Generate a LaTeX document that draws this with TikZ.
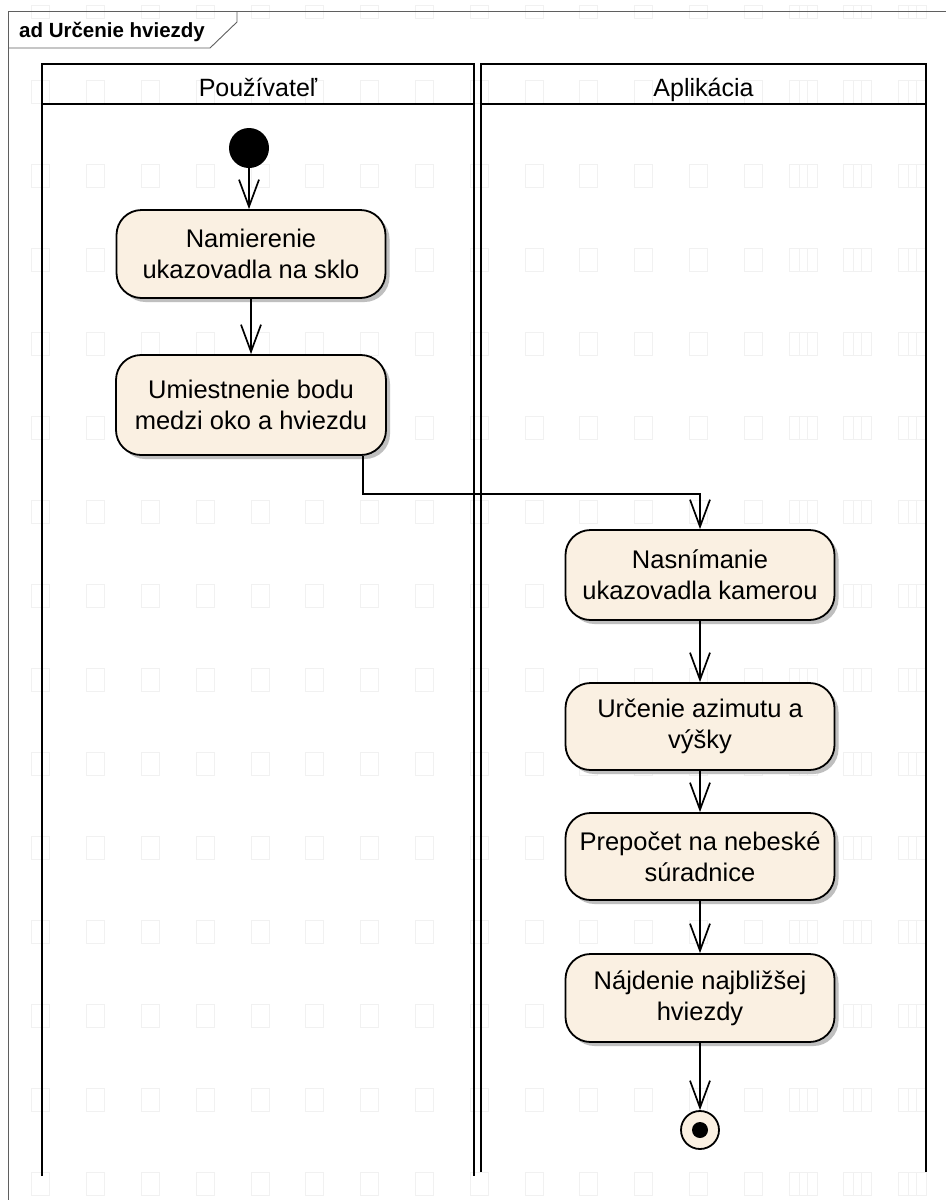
\documentclass[tikz,border=0pt]{standalone}
\usepackage{fontspec}
\setmainfont{Liberation Sans}
\usetikzlibrary{arrows.meta,shadows,calc}
\definecolor{actfill}{RGB}{250,240,226}
\definecolor{wmcol}{RGB}{241,241,241}
\definecolor{framegray}{RGB}{95,95,95}
\tikzset{
  act/.style={draw=black, line width=1.8pt, fill=actfill, rounded corners=25pt,
    minimum width=269pt, minimum height=88pt, align=center, inner sep=0pt,
    font=\fontsize{25.5}{31}\selectfont,
    drop shadow={shadow xshift=4pt, shadow yshift=-4pt, fill=black!25, opacity=1}},
  flow/.style={draw=black, line width=1.7pt,
    -{Straight Barb[length=27pt,width=20pt,line width=1.7pt]}},
  lane/.style={draw=black, line width=2.6pt},
  framestyle/.style={draw=framegray, line width=0.9pt},
  hdr/.style={anchor=base, inner sep=0pt, font=\fontsize{25}{30}\selectfont},
  wmbox/.style={draw=wmcol, line width=0.8pt}
}
\begin{document}
\begin{tikzpicture}[x=1pt,y=-1pt]
\useasboundingbox (0,0) rectangle (946,1200);
\fill[white] (0,0) rectangle (946,1200);
% faint background watermark
\foreach \i in {0,...,16} {
  \pgfmathsetmacro\xx{31.7+54.8*\i}
  \draw[wmbox] (\xx,5) rectangle ++(18,13);
  \foreach \j in {0,...,13} {
    \pgfmathsetmacro\yy{80+84*\j}
    \draw[wmbox] (\xx,\yy) rectangle ++(18,23);
  }
}
\foreach \i in {14,15,16} {
  \pgfmathsetmacro\xx{31.7+54.8*\i-10}
  \draw[wmbox] (\xx,5) rectangle ++(18,13);
  \foreach \j in {0,...,13} {
    \pgfmathsetmacro\yy{80+84*\j}
    \draw[wmbox] (\xx,\yy) rectangle ++(18,23);
  }
}
% frame
\draw[framestyle] (8,1200) -- (8,11) -- (946,11);
\draw[framestyle] (8,48) -- (210,48) -- (237,22) -- (237,11);
\node[anchor=base west, inner sep=0pt, font=\bfseries\fontsize{20.5}{24}\selectfont] (title) at (19,37) {ad Určenie hviezdy};
% swimlanes
\draw[lane] (42,1176) -- (42,64) -- (474,64) -- (474,1176);
\draw[lane] (42,104) -- (474,104);
\draw[lane] (481,1172) -- (481,64) -- (926,64) -- (926,1172);
\draw[lane] (481,104) -- (926,104);
\node[hdr] (lane1) at (258,96.5) {Používateľ};
\node[hdr] (lane2) at (703.5,96.5) {Aplikácia};
% nodes
\node[circle, fill=black, minimum size=40pt, inner sep=0pt] (init) at (249,148) {};
\node[act] (nam) at (251,254) {Namierenie\\ukazovadla na sklo};
\node[act, minimum height=100pt, minimum width=270pt] (umi) at (251,405) {Umiestnenie bodu\\medzi oko a hviezdu};
\node[act, minimum height=90pt] (nas) at (700,575) {Nasnímanie\\ukazovadla kamerou};
\node[act, minimum height=87pt] (urc) at (700,726.5) {Určenie azimutu a\\výšky};
\node[act, minimum height=87pt] (pre) at (700,856.5) {Prepočet na nebeské\\súradnice};
\node[act] (naj) at (700,998) {Nájdenie najbližšej\\hviezdy};
\node[circle, draw=black, line width=1.8pt, fill=actfill, minimum size=38pt, inner sep=0pt] (fin) at (700,1130) {};
\node[circle, fill=black, minimum size=16pt, inner sep=0pt] (findot) at (fin.center) {};
% flows
\draw[flow] (init) -- (init |- nam.north);
\draw[flow] (nam.south) -- (umi.north);
\draw[flow] ([xshift=112pt]umi.south) -- ++(0,38) -| (nas.north);
\draw[flow] (nas) -- (urc);
\draw[flow] (urc) -- (pre);
\draw[flow] (pre) -- (naj);
\draw[flow] (naj) -- (fin);
\end{tikzpicture}
\end{document}
